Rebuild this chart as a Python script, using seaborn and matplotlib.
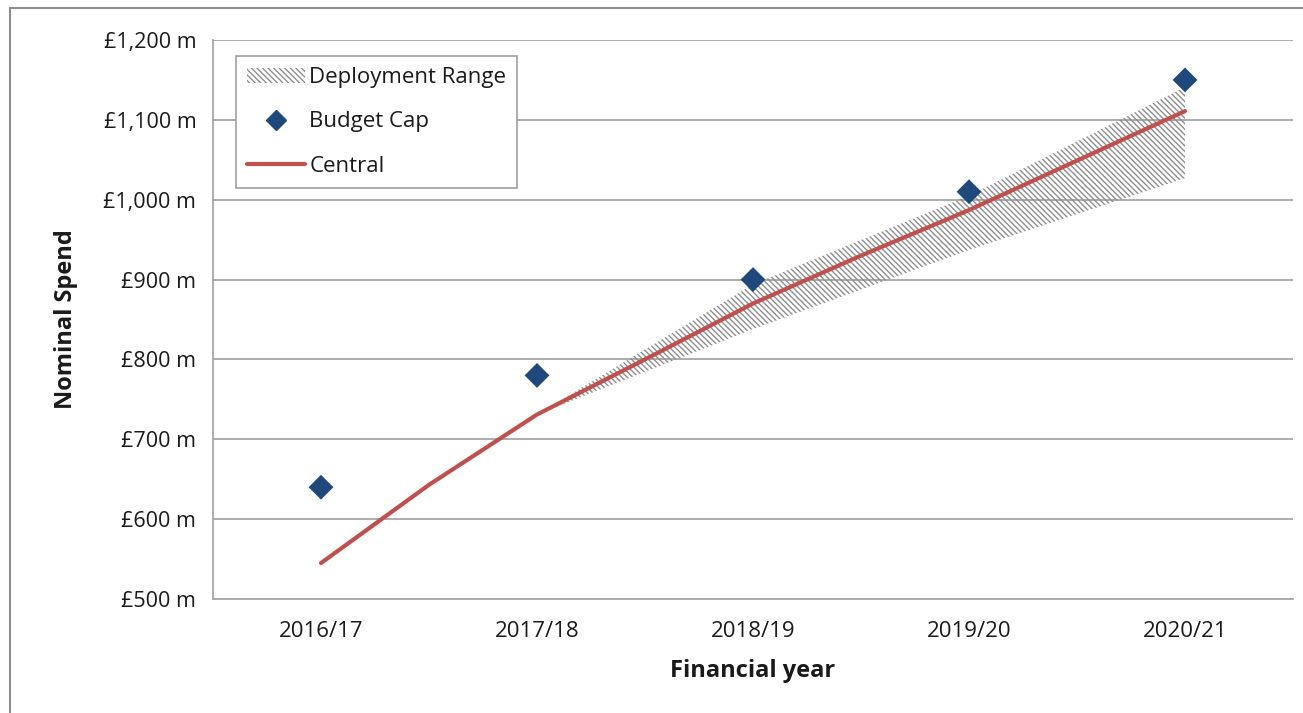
import matplotlib
matplotlib.use('Agg')
import matplotlib.pyplot as plt
import seaborn as sns
import pandas as pd
from matplotlib.patches import Patch, Rectangle
from matplotlib.lines import Line2D
from matplotlib.ticker import FuncFormatter, FixedLocator

# ---- data ----
years = ['2016/17', '2017/18', '2018/19', '2019/20', '2020/21']
budget_cap = [640, 780, 900, 1010, 1150]
central_pos = [0, 0.5, 1, 1.5, 2, 2.5, 3, 3.5, 4]
central = [545, 643, 731, 800, 870, 930, 987, 1049, 1111]
range_pos = [1, 2, 3, 4]
range_low = [731, 838, 937, 1027]
range_high = [731, 894, 1005, 1141]
y_ticks = [500, 600, 700, 800, 900, 1000, 1100, 1200]

sns.set_theme(style='white')
plt.rcParams['font.family'] = ['Open Sans', 'DejaVu Sans']
plt.rcParams['hatch.linewidth'] = 1.0

GRID = '#A6A6A6'
TXT = '#1a1a1a'
HATCH = '#8E8E8E'

fig = plt.figure(figsize=(13.03, 7.13), dpi=100)
ax = fig.add_axes([213 / 1303, 1 - 599 / 713, 1080 / 1303, 559 / 713])

# deployment range (hatched)
ax.fill_between(range_pos, range_low, range_high, facecolor='none',
                edgecolor=HATCH, hatch='\\' * 6, linewidth=0, zorder=2)

# central line
df_c = pd.DataFrame({'x': central_pos, 'y': central})
sns.lineplot(data=df_c, x='x', y='y', color='#C0504D', linewidth=3.0,
             sort=False, ax=ax, zorder=3, solid_capstyle='round')

# budget cap diamonds
df_b = pd.DataFrame({'x': list(range(len(years))), 'y': budget_cap})
sns.scatterplot(data=df_b, x='x', y='y', marker='D', s=160, color='#1F497D',
                edgecolor='none', ax=ax, zorder=4)

ax.set_xlim(-0.5, len(years) - 0.5)
ax.set_ylim(500, 1200)

# y axis
ax.yaxis.set_major_locator(FixedLocator(y_ticks))
ax.yaxis.set_major_formatter(FuncFormatter(lambda v, p: f'£{int(v):,} m'))
ax.yaxis.grid(True, color=GRID, linewidth=1.3)
ax.set_axisbelow(True)
ax.tick_params(axis='y', which='major', length=6, width=1.2, color=GRID,
               direction='out', labelsize=15.5, labelcolor=TXT, pad=6)

# x axis: boundary ticks, labels at centres
ax.xaxis.set_major_locator(FixedLocator([i - 0.5 for i in range(len(years) + 1)]))
ax.xaxis.set_major_formatter(FuncFormatter(lambda v, p: ''))
ax.set_xticks(list(range(len(years))), labels=years, minor=True)
ax.tick_params(axis='x', which='major', length=6, width=1.2, color=GRID,
               direction='out')
ax.tick_params(axis='x', which='minor', length=0, labelsize=16,
               labelcolor=TXT, pad=16)

for s in ['top', 'right']:
    ax.spines[s].set_visible(False)
for s in ['left', 'bottom']:
    ax.spines[s].set_color(GRID)
    ax.spines[s].set_linewidth(1.3)

ax.set_xlabel('Financial year', fontsize=17, fontweight='bold', color=TXT,
              labelpad=12)
ax.set_ylabel('Nominal Spend', fontsize=17, fontweight='bold', color=TXT,
              labelpad=18)

handles = [
    Patch(facecolor='none', edgecolor=HATCH, hatch='\\' * 6, linewidth=0,
          label='Deployment Range'),
    Line2D([], [], marker='D', linestyle='none', markersize=10,
           color='#1F497D', label='Budget Cap'),
    Line2D([], [], color='#C0504D', linewidth=3.0, label='Central'),
]
leg = ax.legend(handles=handles, loc='upper left',
                bbox_to_anchor=(23 / 1080, 1 - 16 / 559), borderaxespad=0,
                fontsize=16, frameon=True, fancybox=False, framealpha=1,
                edgecolor='#A0A0A0', labelspacing=1.05, handlelength=2.6,
                handletextpad=0.2, borderpad=0.5)
leg.get_frame().set_linewidth(1.2)
for t in leg.get_texts():
    t.set_color(TXT)

# outer chart border
fig.add_artist(Rectangle((10 / 1303, -0.2), 2, 1.2 - 8 / 713,
                         transform=fig.transFigure, fill=False,
                         edgecolor='#8C8C8C', linewidth=1.5))

fig.savefig('out.png', dpi=100)
